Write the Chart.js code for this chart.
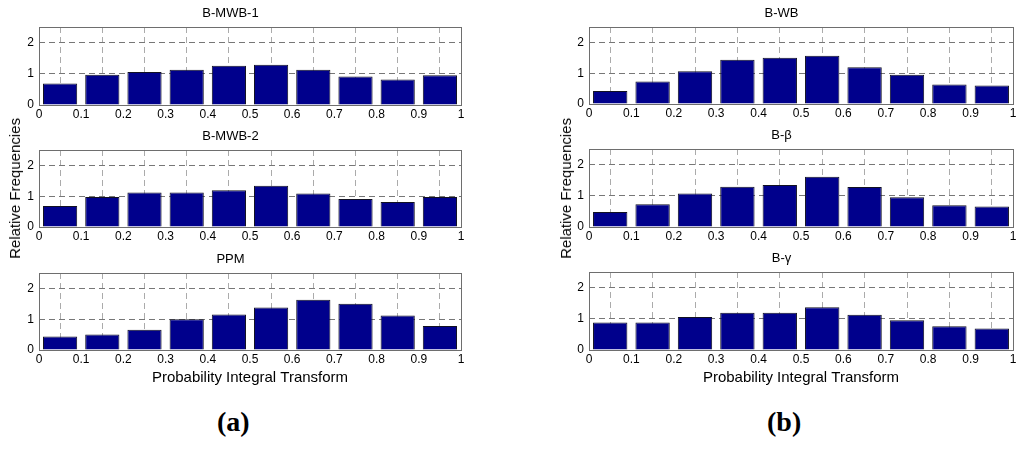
<!DOCTYPE html>
<html>
<head>
<meta charset="utf-8">
<script src="https://cdn.jsdelivr.net/npm/chart.js@4"></script>
<style>
  body { margin: 0; background: #fff; }
  #wrap { position: relative; width: 1024px; height: 449px; overflow: hidden; font-family: "Liberation Sans", Arial, sans-serif; }
  .box { position: absolute; }
  .ylab { position: absolute; font-size: 15px; line-height: 17px; color: #000; writing-mode: vertical-rl; transform: rotate(180deg); white-space: nowrap; }
  .tag { position: absolute; font-family: "Liberation Serif", "Times New Roman", serif; font-weight: bold; font-size: 28px; color: #000; }
</style>
</head>
<body>
<div id="wrap">
  <div class="box" style="left:0px;top:0px;width:469px;height:125px"><canvas id="c1"></canvas></div>
  <div class="box" style="left:0px;top:123px;width:469px;height:124px"><canvas id="c2"></canvas></div>
  <div class="box" style="left:0px;top:246px;width:469px;height:144px"><canvas id="c3"></canvas></div>
  <div class="box" style="left:550px;top:0px;width:471px;height:124px"><canvas id="c4"></canvas></div>
  <div class="box" style="left:550px;top:122px;width:471px;height:125px"><canvas id="c5"></canvas></div>
  <div class="box" style="left:550px;top:245px;width:471px;height:145px"><canvas id="c6"></canvas></div>
  <div class="ylab" style="left:6px;top:118px">Relative Frequencies</div>
  <div class="ylab" style="left:557px;top:118px">Relative Frequencies</div>
  <div class="tag" style="left:217px;top:406px">(a)</div>
  <div class="tag" style="left:767px;top:406px">(b)</div>
</div>
<script>
const binCenters = [0.05, 0.15, 0.25, 0.35, 0.45, 0.55, 0.65, 0.75, 0.85, 0.95];
const xTicks = [0, 0.1, 0.2, 0.3, 0.4, 0.5, 0.6, 0.7, 0.8, 0.9, 1];
const xTickLabels = ["0", "0.1", "0.2", "0.3", "0.4", "0.5", "0.6", "0.7", "0.8", "0.9", "1"];
const yTicks = [0, 1, 2];
const yTickLabels = ["0", "1", "2"];

const bMWB1 = [0.69, 0.97, 1.06, 1.13, 1.26, 1.29, 1.13, 0.91, 0.82, 0.95];
const bMWB2 = [0.68, 0.97, 1.12, 1.12, 1.19, 1.34, 1.09, 0.91, 0.81, 0.97];
const ppm   = [0.44, 0.50, 0.66, 1.00, 1.15, 1.38, 1.63, 1.50, 1.12, 0.78];
const bWB   = [0.42, 0.73, 1.06, 1.44, 1.50, 1.57, 1.19, 0.95, 0.63, 0.60];
const bBeta = [0.48, 0.73, 1.07, 1.29, 1.35, 1.61, 1.28, 0.95, 0.70, 0.66];
const bGamma= [0.88, 0.88, 1.06, 1.19, 1.19, 1.37, 1.13, 0.95, 0.76, 0.69];

const xTitleText = "Probability Integral Transform";

const boxPlugin = {
  id: "box",
  afterDraw(chart) {
    const a = chart.chartArea, c = chart.ctx;
    c.save();
    c.strokeStyle = "#6e6e6e";
    c.lineWidth = 1;
    c.strokeRect(Math.round(a.left) + 0.5, Math.round(a.top) + 0.5, Math.round(a.right - a.left), Math.round(a.bottom - a.top));
    c.restore();
  }
};

function makeHist(id, title, values, withXTitle) {
  new Chart(document.getElementById(id), {
    type: "bar",
    data: {
      datasets: [{
        data: binCenters.map((x, i) => ({ x: x, y: values[i] })),
        backgroundColor: "rgb(0, 0, 140)",
        borderColor: "#111122",
        borderWidth: 1,
        barPercentage: 0.81,
        categoryPercentage: 1,
      }],
    },
    options: {
      responsive: true,
      maintainAspectRatio: false,
      animation: false,
      layout: { padding: { left: 0, right: 8, top: 0, bottom: 0 } },
      plugins: {
        legend: { display: false },
        tooltip: { enabled: false },
        title: {
          display: true,
          text: title,
          color: "#000",
          font: { family: "Liberation Sans", size: 13, weight: "normal" },
          padding: { top: 6, bottom: 5.4 },
        },
      },
      scales: {
        x: {
          type: "linear",
          min: 0,
          max: 1,
          offset: false,
          afterBuildTicks: (s) => { s.ticks = xTicks.map(v => ({ value: v })); },
          afterFit: (s) => { s.height = withXTitle ? 40 : 20; },
          ticks: {
            autoSkip: false,
            maxRotation: 0,
            padding: 2,
            color: "#000",
            font: { family: "Liberation Sans", size: 12 },
            callback: (v, i) => xTickLabels[i],
          },
          grid: { color: "#ababab", drawTicks: false, lineWidth: 1 },
          border: { display: false, dash: [6, 4] },
          title: {
            display: withXTitle,
            text: xTitleText,
            color: "#000",
            font: { family: "Liberation Sans", size: 15 },
            padding: { top: 0, bottom: 3 },
          },
        },
        y: {
          min: 0,
          max: 2.5,
          afterBuildTicks: (s) => { s.ticks = yTicks.map(v => ({ value: v })); },
          afterFit: (s) => { s.width = 39; },
          ticks: {
            padding: 5,
            color: "#000",
            font: { family: "Liberation Sans", size: 12 },
            callback: (v, i) => yTickLabels[i],
          },
          grid: { color: "#777777", drawTicks: false, lineWidth: 1 },
          border: { display: false, dash: [6, 4] },
        },
      },
    },
    plugins: [boxPlugin],
  });
}

makeHist("c1", "B-MWB-1", bMWB1, false);
makeHist("c2", "B-MWB-2", bMWB2, false);
makeHist("c3", "PPM", ppm, true);
makeHist("c4", "B-WB", bWB, false);
makeHist("c5", "B-\u03B2", bBeta, false);
makeHist("c6", "B-\u03B3", bGamma, true);
</script>
</body>
</html>
